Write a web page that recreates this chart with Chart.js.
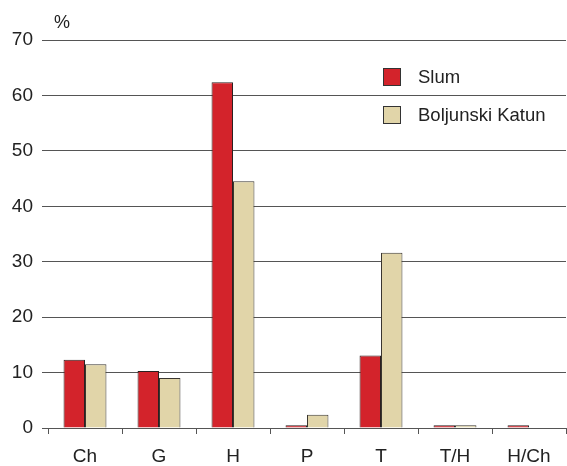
<!DOCTYPE html>
<html>
<head>
<meta charset="utf-8">
<script src="https://cdn.jsdelivr.net/npm/chart.js@4.4.1/dist/chart.umd.min.js"></script>
<style>
  html, body { margin: 0; padding: 0; background: #fff; }
  #wrap { width: 567px; height: 466px; position: relative; }
</style>
</head>
<body>
<div id="wrap"><canvas id="chart"></canvas></div>
<script>
// values
const categories = ['Ch', 'G', 'H', 'P', 'T', 'T/H', 'H/Ch'];
const slum = [12.3, 10.3, 62.4, 0.5, 13.1, 0.5, 0.5];
const boljunski = [11.5, 9.0, 44.5, 2.4, 31.6, 0.5, 0];
const yTicks = [0, 10, 20, 30, 40, 50, 60, 70];

const FONT = "'Liberation Sans', Arial, sans-serif";
const TEXT = '#222';

// legend drawn inside the plot, top right, plus the "%" unit label
const extras = {
    id: 'extras',
    afterDraw(chart) {
        const ctx = chart.ctx;
        ctx.save();
        ctx.font = '18px ' + FONT;
        ctx.fillStyle = TEXT;
        ctx.textBaseline = 'middle';
        ctx.textAlign = 'center';
        ctx.fillText('%', 62, 23);

        ctx.font = '18.5px ' + FONT;
        const x0 = 383, ys = [77, 115];
        chart.data.datasets.forEach((ds, i) => {
            ctx.fillStyle = ds.backgroundColor;
            ctx.fillRect(x0, ys[i] - 9, 18, 18);
            ctx.strokeStyle = '#333';
            ctx.lineWidth = 1;
            ctx.strokeRect(x0 + 0.5, ys[i] - 8.5, 17, 17);
            ctx.fillStyle = TEXT;
            ctx.textAlign = 'left';
            ctx.fillText(ds.label, 418, ys[i] + 1);
        });
        ctx.restore();
    }
};

new Chart(document.getElementById('chart'), {
    type: 'bar',
    data: {
        labels: categories,
        datasets: [
            {
                label: 'Slum',
                data: slum,
                backgroundColor: '#d3232b',
                borderColor: '#2b2020',
                borderWidth: 1,
            },
            {
                label: 'Boljunski Katun',
                data: boljunski,
                backgroundColor: '#e1d5a9',
                borderColor: '#3a3630',
                borderWidth: 1,
            },
        ],
    },
    options: {
        responsive: true,
        maintainAspectRatio: false,
        animation: false,
        datasets: {
            bar: { categoryPercentage: 0.58, barPercentage: 1.0 },
        },
        layout: { padding: { top: 40, right: 1, bottom: 2, left: 0 } },
        plugins: {
            legend: { display: false },
            tooltip: { enabled: false },
        },
        scales: {
            x: {
                afterFit(scale) { scale.height = 36; },
                grid: {
                    offset: true,
                    drawOnChartArea: false,
                    tickLength: 6,
                    color: '#555',
                },
                border: { display: false },
                ticks: {
                    color: TEXT,
                    padding: 11,
                    font: { family: FONT, size: 19 },
                },
            },
            y: {
                min: 0,
                max: 70,
                afterFit(scale) { scale.width = 48; },
                afterBuildTicks(scale) {
                    scale.ticks = yTicks.map(v => ({ value: v }));
                },
                grid: {
                    color: '#555',
                    tickLength: 6,
                },
                border: { display: false },
                ticks: {
                    color: TEXT,
                    padding: 9,
                    font: { family: FONT, size: 19 },
                },
            },
        },
    },
    plugins: [extras],
});
</script>
</body>
</html>
